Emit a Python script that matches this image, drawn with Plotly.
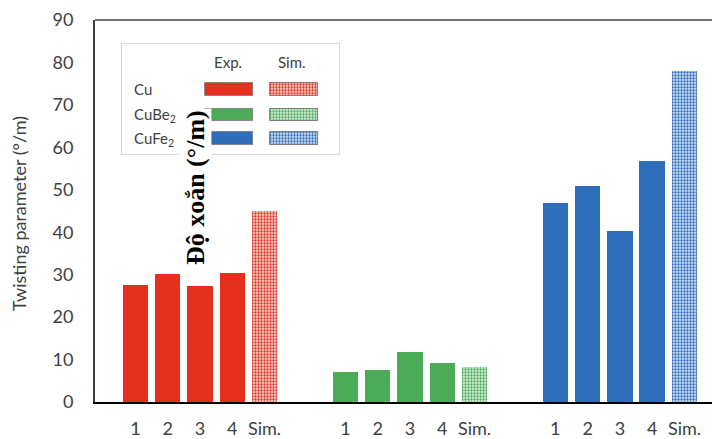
import plotly.graph_objects as go

# ---------------- data ----------------
groups = ["Cu", "CuBe<sub>2</sub>", "CuFe<sub>2</sub>"]
bar_labels = ["1", "2", "3", "4", "Sim."]
exp_cu = [27.6, 30.1, 27.4, 30.3]
sim_cu = 44.9
exp_cube2 = [7.0, 7.5, 11.8, 9.1]
sim_cube2 = 8.3
exp_cufe2 = [46.9, 50.9, 40.2, 56.7]
sim_cufe2 = 77.9
y_ticks = list(range(0, 100, 10))

colors = ["#E5301F", "#4CAB58", "#2E6DB9"]
tints = ["#FAD2CC", "#D6EED9", "#D0DEF2"]
exp_vals = [exp_cu, exp_cube2, exp_cufe2]
sim_vals = [sim_cu, sim_cube2, sim_cufe2]
group_offsets = [0, 6.5, 13]   # slot position of first bar of each group

W, H = 712, 439
ML, MR, MT, MB = 95, 0, 20, 35
PW, PH = W - ML - MR, H - MT - MB

def px(x):
    return (x - ML) / PW

def py(y):
    return 1 - (y - MT) / PH

def sim_pattern(c, t):
    return dict(shape=".", size=3, solidity=0.45, fgcolor=c, bgcolor=t, fillmode="replace")

fig = go.Figure()
tickvals, ticktext = [], []
for c, t, ev, sv, off in zip(colors, tints, exp_vals, sim_vals, group_offsets):
    xs = [off + i for i in range(len(ev))]
    fig.add_trace(go.Bar(x=xs, y=ev, width=0.79, marker=dict(color=c, line=dict(width=0)),
                         showlegend=False))
    fig.add_trace(go.Bar(x=[off + len(ev)], y=[sv], width=0.79,
                         marker=dict(color=c, line=dict(width=0), pattern=sim_pattern(c, t)),
                         showlegend=False))
    tickvals += [off + i for i in range(len(ev) + 1)]
    ticktext += bar_labels

# ------------- custom legend (on its own invisible axes) -------------
LG_L, LG_R, LG_T, LG_B = 122, 339, 44, 155
row_y = [45.7, 71.3, 95.2]          # row centers relative to legend top (px)
exp_x0, sim_x0, sw_w = 83, 148, 48  # swatch left edges / width relative to legend left (px)
for c, t, ry in zip(colors, tints, row_y):
    fig.add_trace(go.Bar(y=[ry], x=[sw_w], base=[exp_x0], orientation="h", width=12.5,
                         marker=dict(color=c, line=dict(width=0.8, color="#777")),
                         xaxis="x2", yaxis="y2", showlegend=False))
    fig.add_trace(go.Bar(y=[ry], x=[sw_w], base=[sim_x0], orientation="h", width=12.5,
                         marker=dict(color=c, line=dict(width=0.8, color="#666"),
                                     pattern=sim_pattern(c, t)),
                         xaxis="x2", yaxis="y2", showlegend=False))

font_main = "Lato, 'Open Sans', sans-serif"
txt_col = "#404040"

annotations = []
for label, xc in (("Exp.", 228), ("Sim.", 292)):
    annotations.append(dict(xref="paper", yref="paper", x=px(xc), y=py(62), text=label,
                            xanchor="center", yanchor="middle", showarrow=False,
                            font=dict(family=font_main, size=15, color=txt_col)))
for gname, ry in zip(groups, row_y):
    annotations.append(dict(xref="paper", yref="paper", x=px(132), y=py(LG_T + ry), text=gname,
                            xanchor="left", yanchor="middle", showarrow=False,
                            font=dict(family=font_main, size=15, color=txt_col)))
# y-axis title
annotations.append(dict(xref="paper", yref="paper", x=px(19), y=py(215), text="Twisting parameter (°/m)",
                        xanchor="center", yanchor="middle", textangle=-90, showarrow=False,
                        font=dict(family=font_main, size=18, color=txt_col)))
# overlay text
annotations.append(dict(xref="paper", yref="paper", x=px(195), y=py(189), text="<b>Độ xoắn (°/m)</b>",
                        xanchor="center", yanchor="middle",
                        textangle=-90, showarrow=False, bgcolor="white", borderpad=1,
                        font=dict(family="'Liberation Serif', 'Times New Roman', serif", size=26,
                                  color="black")))

shapes = [
    dict(type="rect", xref="paper", yref="paper", x0=px(LG_L), x1=px(LG_R), y0=py(LG_B), y1=py(LG_T),
         line=dict(color="#C8C8C8", width=1.5), fillcolor="white", layer="below"),
    dict(type="line", xref="paper", yref="paper", x0=0, x1=1, y0=1, y1=1,
         line=dict(color="#707070", width=2)),
]

fig.update_layout(
    width=W, height=H, margin=dict(l=ML, r=MR, t=MT, b=MB),
    paper_bgcolor="white", plot_bgcolor="white",
    barmode="overlay", bargap=0,
    font=dict(family=font_main, color=txt_col),
    xaxis=dict(range=[-1.25, 17.85], tickvals=tickvals, ticktext=ticktext,
               showgrid=False, zeroline=False, showline=True, linecolor="black", linewidth=1.5,
               ticks="", tickfont=dict(size=18, color=txt_col), ticklabelstandoff=10),
    yaxis=dict(range=[0, 90], tickvals=y_ticks, showgrid=False, zeroline=False,
               showline=True, linecolor="#404040", linewidth=2, ticks="",
               tickfont=dict(size=18, color=txt_col), ticklabelstandoff=16),
    xaxis2=dict(domain=[px(LG_L), px(LG_R)], range=[0, LG_R - LG_L], visible=False,
                anchor="y2", fixedrange=True),
    yaxis2=dict(domain=[py(LG_B), py(LG_T)], range=[LG_B - LG_T, 0], visible=False,
                anchor="x2", fixedrange=True),
    annotations=annotations, shapes=shapes,
)

fig.write_html("out.html")
